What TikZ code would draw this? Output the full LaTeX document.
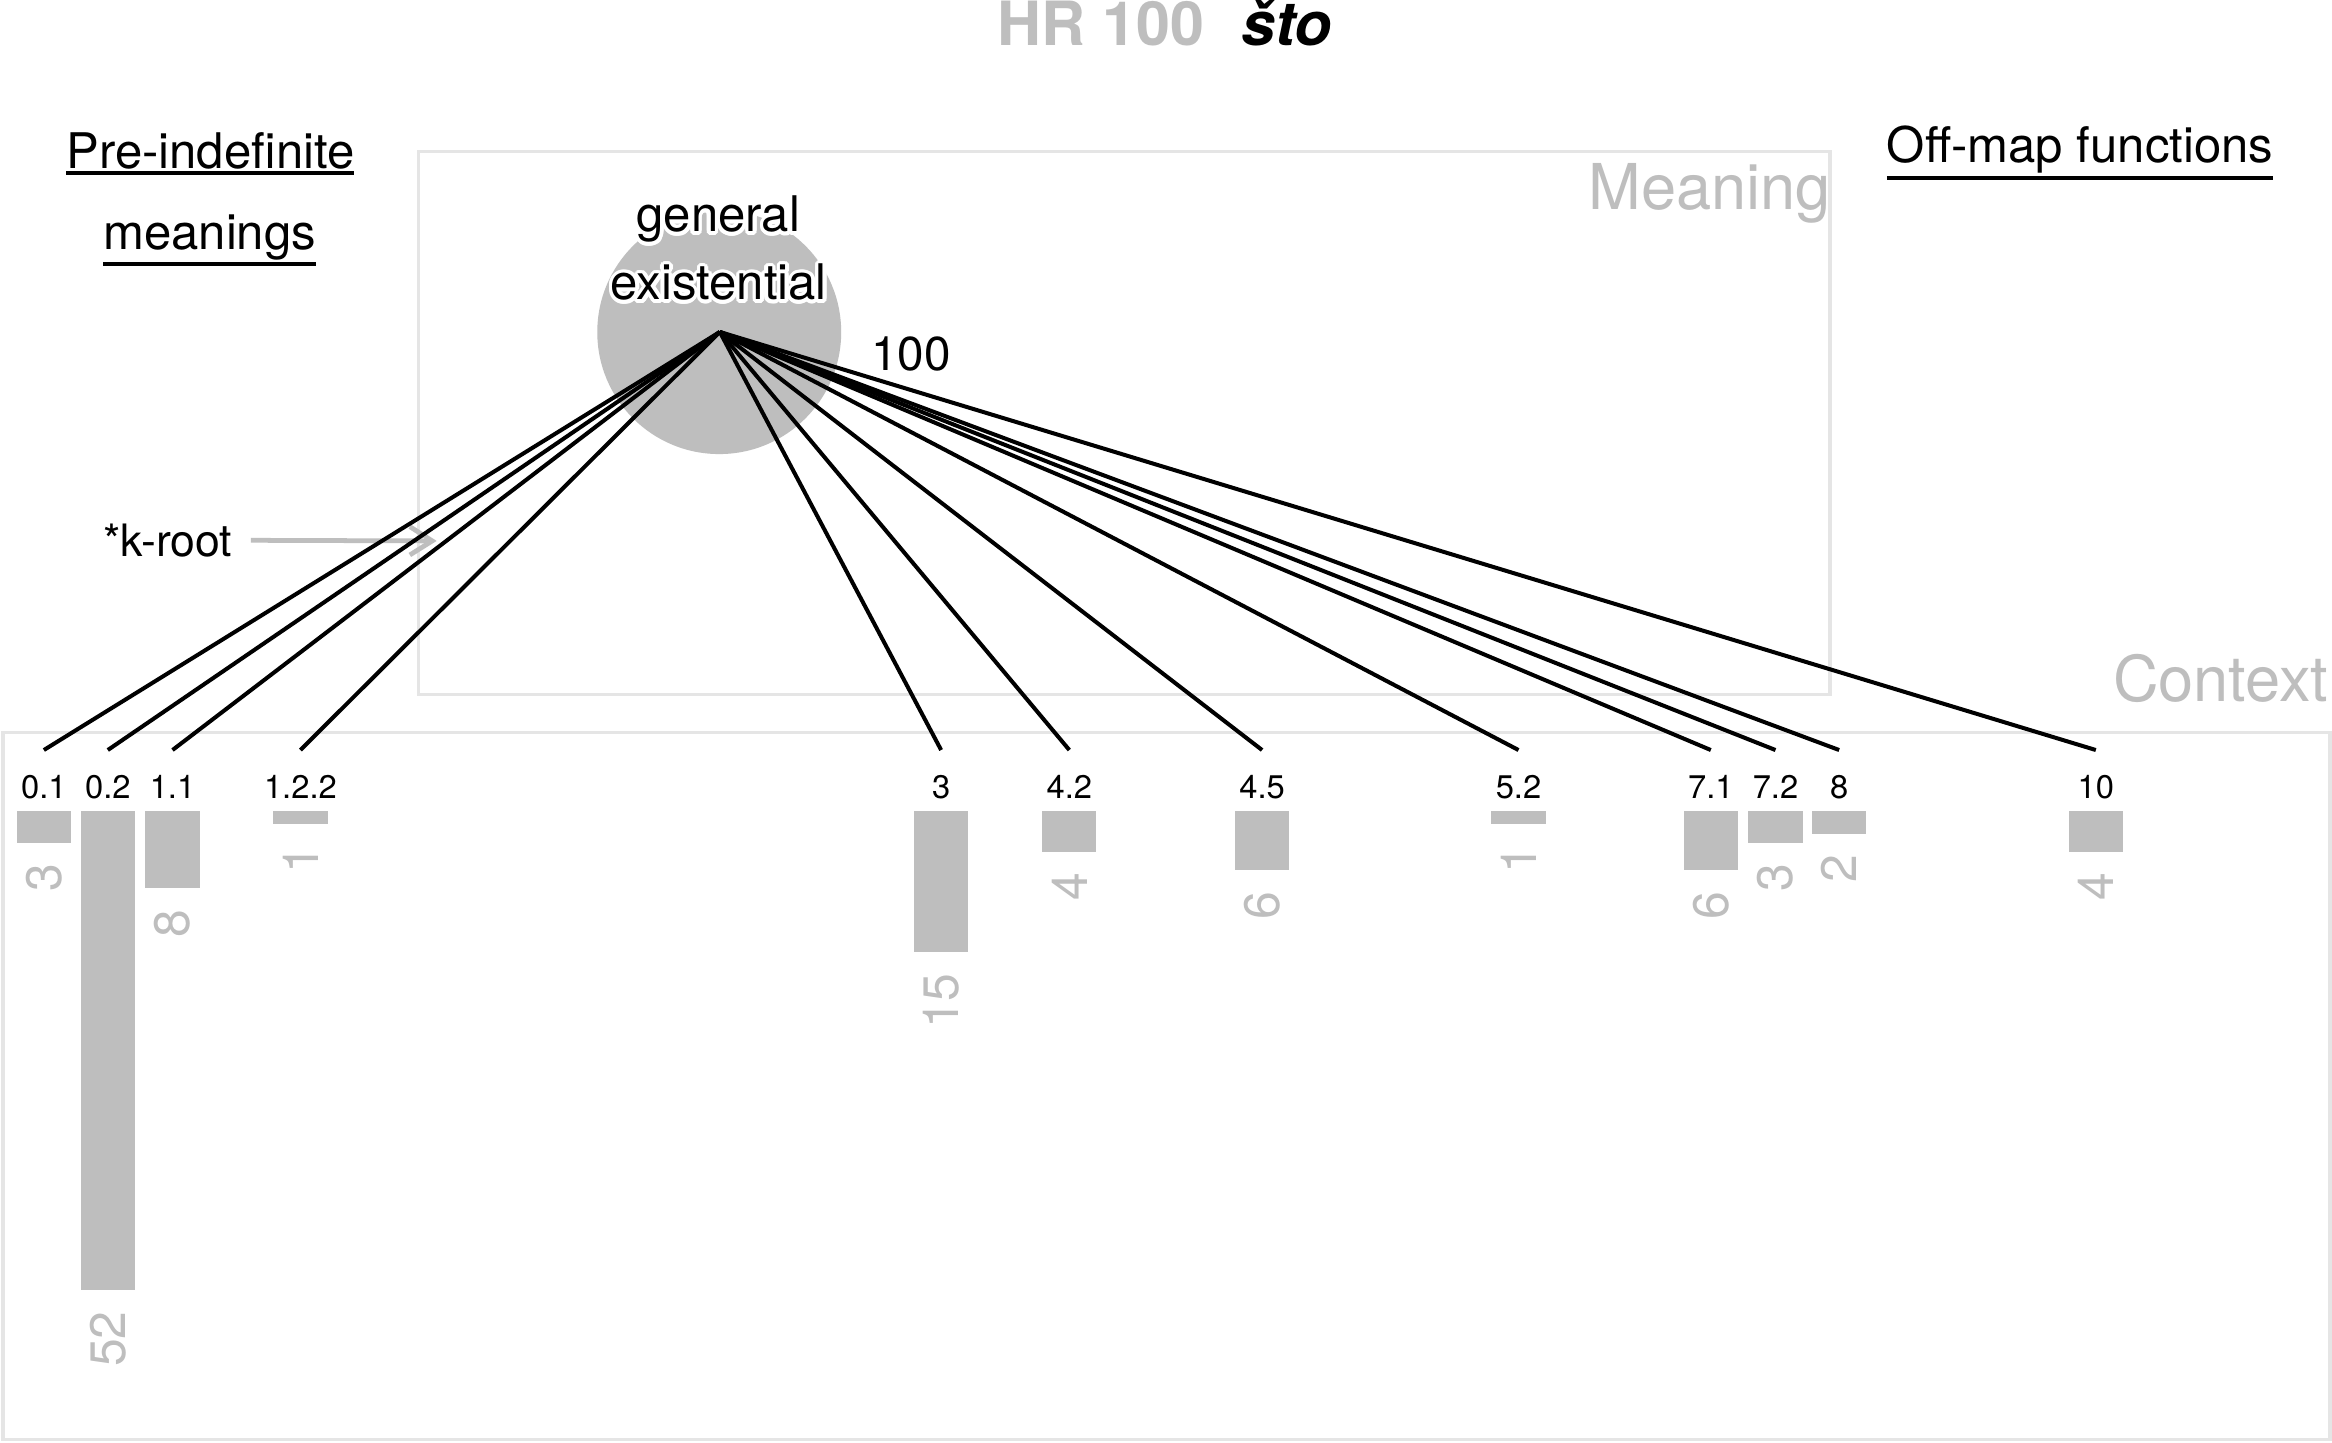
\documentclass[tikz,border=0pt]{standalone}
\usepackage{fontspec}
\setmainfont{TeX Gyre Heros}
\usepackage{contour}
\contourlength{2.4pt}
\contournumber{16}
\usetikzlibrary{arrows.meta}
\definecolor{txtgray}{RGB}{190,190,190}
\definecolor{boxgray}{RGB}{229,229,229}
\definecolor{bargray}{RGB}{190,190,190}
\tikzset{
  every node/.style={inner sep=0pt, outer sep=0pt},
  frame/.style={draw=boxgray, line width=2.4pt},
  link/.style={draw=black, line width=2.7pt},
  barlbl/.style={font=\fontsize{22}{26}\selectfont, anchor=base},
  cntlbl/.style={font=\fontsize{33.5}{40}\selectfont, text=txtgray, rotate=90, anchor=east},
  bar/.style={fill=bargray, draw=none},
  head/.style={font=\fontsize{33}{40}\selectfont},
  zone/.style={font=\fontsize{42.5}{50}\selectfont, text=txtgray, anchor=base east},
  uline/.style={draw=black, line width=2.6pt},
}
\begin{document}
\begin{tikzpicture}[x=1pt,y=-1pt]
\useasboundingbox (0,0) rectangle (1568,970);
\fill[white] (0,0) rectangle (1568,970);

% frames
\draw[frame] (281.5,102) rectangle (1230.4,467);
\draw[frame] (2.2,492.4) rectangle (1566.5,968);
\node[zone] (meaning) at (1231,140.8) {Meaning};
\node[zone] (context) at (1565.5,471.8) {Context};

% title
\node[anchor=base west, font=\bfseries\fontsize{41}{48}\selectfont, text=txtgray] (hr) at (670.5,30.9) {HR 100};
\node[anchor=base west, font=\bfseries\itshape\fontsize{41}{48}\selectfont] (sto) at (835,30.9) {što};

% headings
\node[head, anchor=base] (pre) at (141.5,113) {Pre-indefinite};
\node[head, anchor=base] (mean) at (141,167.6) {meanings};
\node[head, anchor=base] (off) at (1398.6,109.4) {Off-map functions};
\draw[uline] ([yshift=-3pt]pre.south west) -- ([yshift=-3pt]pre.south east);
\draw[uline] ([yshift=-3pt]mean.south west) -- ([yshift=-3pt]mean.south east);
\draw[uline] ([yshift=-3pt]off.south west) -- ([yshift=-3pt]off.south east);

% meaning blob
\node[circle, fill=bargray, minimum size=164pt] (blob) at (483.6,223.3) {};
\coordinate (hub) at (484,223.2);
\node[head, anchor=base west, font=\fontsize{32}{38}\selectfont] (total) at (586,248.8) {100};

% k-root arrow
\node[anchor=base west, font=\fontsize{30}{36}\selectfont] (kroot) at (69.5,374) {*k-root};
\coordinate (kto) at (293.6,363.7);
\draw[draw=txtgray, line width=3.2pt, -{Straight Barb[length=15pt,width=19pt]}] ([xshift=12.5pt]kroot.east) -- (kto);

% bars, labels and links
\foreach \x/\lab/\n/\id in {29.5/0.1/3/a, 72.5/0.2/52/b, 116/1.1/8/c, 202/1.2.2/1/d, 632.8/3/15/e, 719/4.2/4/f, 848.6/4.5/6/g, 1021/5.2/1/h, 1150.3/7.1/6/i, 1193.8/7.2/3/j, 1236.6/8/2/k, 1409.2/10/4/l} {
  \pgfmathsetmacro{\h}{2.86+6.14*\n}
  \node[bar, minimum width=36.5pt, minimum height=\h pt, anchor=north] (bar\id) at (\x,545.3) {};
  \node[barlbl] (lab\id) at (\x,536.8) {\lab};
  \node[cntlbl] (cnt\id) at ([yshift=-14.3pt]bar\id.south) {\n};
  \coordinate (end\id) at (\x,504.3);
  \draw[link] (hub) -- (end\id);
}

% blob text with white halo
\node[head, anchor=base] (gen) at (483,155.8) {\contour{white}{general}};
\node[head, anchor=base] (exi) at (483.3,201.7) {\contour{white}{existential}};
\end{tikzpicture}
\end{document}
